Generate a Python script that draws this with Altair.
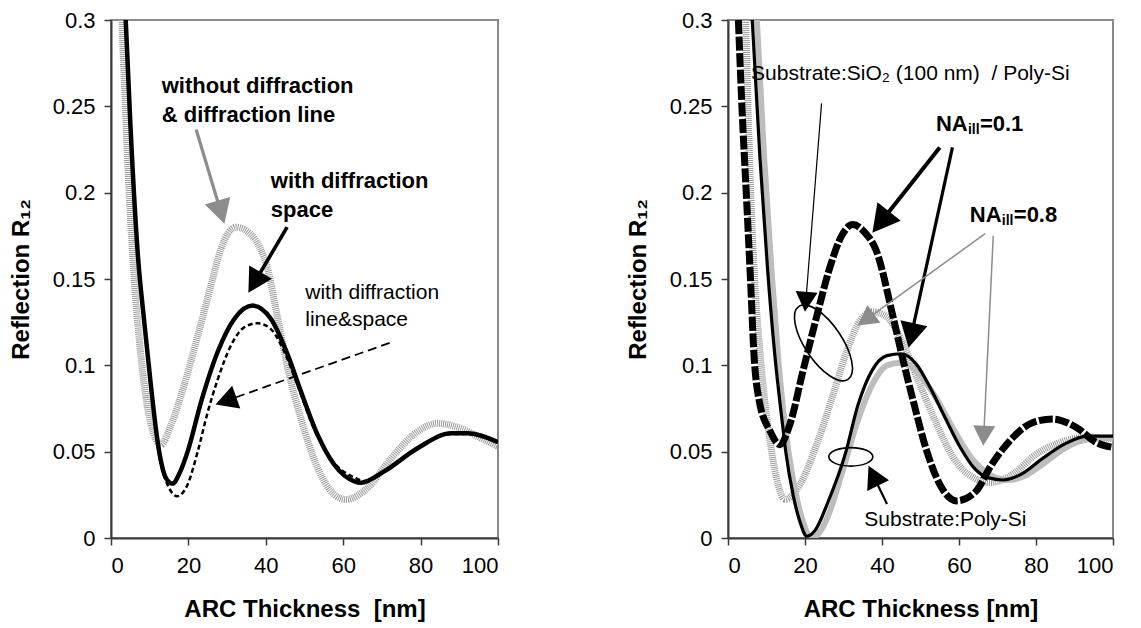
import math
import altair as alt
import pandas as pd

FONT = "Liberation Sans"
W_L, W_R, H = 387, 385, 518
YMAX = 0.3

# ---------------- left panel: curves ----------------
L_nodiff_x = [2.8, 3.7, 4.8, 6.0, 7.3, 8.6, 10.3, 12.9, 15.5, 18.9, 22.4, 25.8, 28.5, 32.3, 36.0, 38.5,
              40.5, 43.1, 45.7, 49.1, 53.4, 57.7, 60.7, 66.3, 72.4, 79.2, 84.4, 90.4, 94.8, 100]
L_nodiff_y = [0.300, 0.250, 0.195, 0.150, 0.115, 0.0885, 0.066, 0.054, 0.0655, 0.0885, 0.117, 0.146, 0.168,
              0.180, 0.176, 0.168, 0.1557, 0.127, 0.098, 0.069, 0.0405, 0.0252, 0.0223, 0.029, 0.0462,
              0.0616, 0.0664, 0.0635, 0.0587, 0.053]

L_ls_x = [3.8, 5.0, 6.9, 8.6, 10.3, 12.3, 14.6, 17.1, 19.8, 22.4, 25.0, 27.6, 31.0, 34.4, 37.9, 41.3,
          44.8, 48.2, 52.5, 57.7, 62.9, 65.5, 70.6, 79.2, 87.9, 92.2, 100]
L_ls_y = [0.300, 0.240, 0.165, 0.125, 0.0885, 0.050, 0.031, 0.0242, 0.031, 0.050, 0.073, 0.092, 0.1115,
          0.122, 0.1244, 0.121, 0.1077, 0.0885, 0.063, 0.0435, 0.035, 0.033, 0.0384, 0.0518, 0.0603,
          0.0603, 0.0553]

L_sp_x = [3.8, 5.0, 6.9, 8.6, 10.3, 12.3, 14.2, 15.9, 17.8, 19.8, 23.3, 27.6, 31.9, 36.6, 41.3, 45.7,
          49.1, 53.4, 57.7, 62.9, 64.6, 70.6, 79.2, 87.9, 92.2, 100]
L_sp_y = [0.300, 0.240, 0.165, 0.125, 0.0885, 0.052, 0.0347, 0.0315, 0.038, 0.050, 0.079, 0.108, 0.127,
          0.1346, 0.127, 0.106, 0.0847, 0.0597, 0.0424, 0.0328, 0.032, 0.0386, 0.052, 0.0606, 0.0606,
          0.0555]

# ---------------- right panel: curves ----------------
R_na01_sio2_x = [2.7, 3.55, 4.85, 5.9, 6.7, 8.1, 10.9, 13.5, 16.1, 19.5, 23.0, 26.5, 29.5, 32.4, 35.5,
                 38.5, 42.9, 45.5, 48.1, 51.6, 55.0, 59.4, 64.5, 68.0, 73.2, 79.2, 84.4, 90.5, 95.7, 100]
R_na01_sio2_y = [0.300, 0.253, 0.195, 0.147, 0.108, 0.0795, 0.062, 0.054, 0.066, 0.097, 0.128, 0.157,
                 0.175, 0.1815, 0.177, 0.1665, 0.1278, 0.1027, 0.0795, 0.0505, 0.0311, 0.0215, 0.0273,
                 0.0408, 0.0563, 0.0669, 0.0689, 0.064, 0.0553, 0.0524]

R_na08_sio2_x = [4.6, 5.6, 7.0, 8.3, 11.3, 13.0, 14.8, 18.7, 23.0, 27.3, 30.8, 34.3, 37.5, 41.0, 45.5,
                 49.8, 54.2, 58.5, 63.7, 68.0, 74.0, 80.1, 86.2, 92.2, 100]
R_na08_sio2_y = [0.300, 0.220, 0.147, 0.108, 0.0505, 0.031, 0.0224, 0.031, 0.054, 0.083, 0.108, 0.126,
                 0.131, 0.1285, 0.1124, 0.089, 0.066, 0.0466, 0.035, 0.0321, 0.037, 0.0486, 0.0553,
                 0.0582, 0.0573]

R_na01_poly_x = [6.3, 8.3, 10.3, 12.2, 14.2, 15.0, 17.0, 18.6, 20.5, 22.5, 26.0, 30.5, 33.7, 37.5, 41.3,
                 45.0, 48.8, 53.0, 56.4, 60.2, 63.9, 67.7, 71.5, 76.2, 81.9, 87.5, 93.2, 100]
R_na01_poly_y = [0.300, 0.220, 0.155, 0.105, 0.065, 0.050, 0.024, 0.010, 0.001, 0.004, 0.021, 0.049,
                 0.0766, 0.0974, 0.1056, 0.1067, 0.101, 0.085, 0.0696, 0.053, 0.0406, 0.0348, 0.0336,
                 0.037, 0.0464, 0.0545, 0.059, 0.059]

R_na08_poly_x = [7.5, 9.4, 11.3, 13.0, 14.8, 16.8, 19.0, 21.9, 24.0, 26.2, 29.9, 33.7, 37.5, 41.3, 44.8,
                 48.8, 53.5, 58.3, 63.0, 67.7, 72.4, 77.1, 81.9, 87.5, 93.2, 100]
R_na08_poly_y = [0.300, 0.220, 0.155, 0.105, 0.065, 0.035, 0.013, 0.0, 0.004, 0.014, 0.040, 0.068, 0.089,
                 0.100, 0.1015, 0.097, 0.083, 0.064, 0.047, 0.037, 0.0336, 0.036, 0.043, 0.052, 0.057,
                 0.058]

# ---------------- annotations (data coordinates) ----------------
L_bold_text = ["without diffraction", "& diffraction line", "with diffraction", "space"]
L_bold_x = [13.1, 13.1, 41.3, 41.3]
L_bold_y = [0.262, 0.245, 0.2066, 0.1897]
L_norm_text = ["with diffraction", "line&space"]
L_norm_x = [50.2, 50.2]
L_norm_y = [0.142, 0.126]

# arrows: start x, start y, tip x, tip y, colour, width, head length
L_arrows = [
    (22.0, 0.2366, 29.3, 0.182, "#8c8c8c", 3.2, 24),
    (45.5, 0.180, 35.5, 0.142, "#000000", 3.6, 24),
]
L_arrows_dashed = [
    (72.0, 0.113, 27.0, 0.0773, "#000000", 1.8, 22),
]

R_norm_text = ["Substrate:SiO\u2082 (100 nm)\u00a0 / Poly-Si", "Substrate:Poly-Si"]
R_norm_x = [6.0, 35.4]
R_norm_y = [0.2687, 0.0104]
R_na_x = [54.0, 62.8]
R_na_y = [0.240, 0.1868]
R_na_val = ["=0.1", "=0.8"]

R_arrows = [
    (24.3, 0.2517, 20.0, 0.131, "#000000", 1.2, 20),
    (55.0, 0.2262, 37.5, 0.1768, "#000000", 4.0, 27),
    (58.3, 0.2262, 46.9, 0.1102, "#000000", 3.2, 25),
    (66.8, 0.1763, 33.7, 0.123, "#8c8c8c", 1.5, 20),
    (68.9, 0.175, 66.3, 0.0534, "#8c8c8c", 1.5, 20),
    (41.3, 0.0197, 36.5, 0.0418, "#000000", 2.2, 22),
]

# ellipses: centre x, centre y, semi-major (px), rotation (deg)
R_ellipses = [(24.8, 0.113, 44, 56), (31.9, 0.047, 22, 0)]

HEAD = "M0,0 L0.55,1 L-0.55,1 Z"
ELLIPSE = ("M-1,0 C-1,-0.232 -0.552,-0.42 0,-0.42 C0.552,-0.42 1,-0.232 1,0 "
           "C1,0.232 0.552,0.42 0,0.42 C-0.552,0.42 -1,0.232 -1,0 Z")


def x_enc(title, field="x"):
    return alt.X(f"{field}:Q", scale=alt.Scale(domain=[0, 100], nice=False, zero=False),
                 axis=alt.Axis(values=[0, 20, 40, 60, 80, 100], format="d", title=title))


def y_enc(field="y"):
    return alt.Y(f"{field}:Q", scale=alt.Scale(domain=[0, YMAX], nice=False),
                 axis=alt.Axis(values=[0, 0.05, 0.1, 0.15, 0.2, 0.25, 0.3], format="~g",
                               title="Reflection R\u2081\u2082"))


def line_layer(xs, ys, xtitle, **style):
    df = pd.DataFrame({"x": xs, "y": ys})
    return alt.Chart(df).mark_line(interpolate="monotone", clip=True, **style).encode(
        x=x_enc(xtitle), y=y_enc())


def arrow_layers(arrows, xtitle, width, dashed=False):
    xppu = width / 100.0
    yppu = H / YMAX
    shafts, heads = [], []
    for (x1, y1, x2, y2, col, sw, L) in arrows:
        dx = (x2 - x1) * xppu
        dy = -(y2 - y1) * yppu
        n = math.hypot(dx, dy)
        ux, uy = dx / n, dy / n
        ex = x2 - ux * L * 0.6 / xppu
        ey = y2 + uy * L * 0.6 / yppu
        shafts.append({"x": x1, "y": y1, "xe": ex, "ye": ey, "c": col, "w": sw})
        ang = math.degrees(math.atan2(dx, -dy)) % 360
        heads.append({"x": x2, "y": y2, "a": ang, "s": (2 * L) ** 2, "c": col})
    rule_kw = {"strokeDash": [9, 5]} if dashed else {}
    shaft = alt.Chart(pd.DataFrame(shafts)).mark_rule(**rule_kw).encode(
        x=x_enc(xtitle), y=y_enc(), x2="xe:Q", y2="ye:Q",
        color=alt.Color("c:N", scale=None), strokeWidth=alt.StrokeWidth("w:Q", scale=None))
    head = alt.Chart(pd.DataFrame(heads)).mark_point(shape=HEAD, filled=True, opacity=1, strokeWidth=0).encode(
        x=x_enc(xtitle), y=y_enc(), angle=alt.Angle("a:Q", scale=None),
        size=alt.Size("s:Q", scale=None), color=alt.Color("c:N", scale=None))
    return [shaft, head]


def text_layer(texts, xs, ys, xtitle, **style):
    df = pd.DataFrame({"x": xs, "y": ys, "t": texts})
    return alt.Chart(df).mark_text(align="left", baseline="middle", font=FONT, color="black", **style).encode(
        x=x_enc(xtitle), y=y_enc(), text="t:N")


STIPPLE = dict(color="#9a9a9a", strokeWidth=7, strokeDash=[1, 1])

# ---------------- left panel ----------------
LT = "ARC Thickness\u00a0 [nm]"
left_layers = [
    line_layer(L_nodiff_x, L_nodiff_y, LT, **STIPPLE),
    line_layer(L_ls_x, L_ls_y, LT, color="black", strokeWidth=2.5, strokeDash=[5, 3]),
    line_layer(L_sp_x, L_sp_y, LT, color="black", strokeWidth=4.5),
]
left_layers += arrow_layers(L_arrows, LT, W_L)
left_layers += arrow_layers(L_arrows_dashed, LT, W_L, dashed=True)
left_layers.append(text_layer(L_bold_text, L_bold_x, L_bold_y, LT, fontSize=22, fontWeight="bold"))
left_layers.append(text_layer(L_norm_text, L_norm_x, L_norm_y, LT, fontSize=21))
left = alt.layer(*left_layers).properties(width=W_L, height=H)

# ---------------- right panel ----------------
RT = "ARC Thickness [nm]"
right_layers = [
    line_layer(R_na08_sio2_x, R_na08_sio2_y, RT, **STIPPLE),
    line_layer(R_na08_poly_x, R_na08_poly_y, RT, color="#bdbdbd", strokeWidth=6),
    line_layer(R_na01_poly_x, R_na01_poly_y, RT, color="black", strokeWidth=3.2),
    line_layer(R_na01_sio2_x, R_na01_sio2_y, RT, color="black", strokeWidth=7, strokeDash=[14, 2.5]),
]
right_layers += arrow_layers(R_arrows, RT, W_R)
ell_df = pd.DataFrame({"x": [e[0] for e in R_ellipses], "y": [e[1] for e in R_ellipses],
                       "s": [(2 * e[2]) ** 2 for e in R_ellipses], "a": [e[3] for e in R_ellipses]})
right_layers.append(
    alt.Chart(ell_df).mark_point(shape=ELLIPSE, filled=False, color="black", strokeWidth=1.6, opacity=1).encode(
        x=x_enc(RT), y=y_enc(), size=alt.Size("s:Q", scale=None), angle=alt.Angle("a:Q", scale=None)))
right_layers.append(text_layer(R_norm_text, R_norm_x, R_norm_y, RT, fontSize=21))
right_layers.append(text_layer(["NA", "NA"], R_na_x, R_na_y, RT, fontSize=22, fontWeight="bold"))
right_layers.append(text_layer(["ill", "ill"], R_na_x, R_na_y, RT, fontSize=14, fontWeight="bold", dx=32, dy=6))
right_layers.append(text_layer(R_na_val, R_na_x, R_na_y, RT, fontSize=22, fontWeight="bold", dx=44))
right = alt.layer(*right_layers).properties(width=W_R, height=H)

chart = alt.hconcat(left, right, spacing=125).properties(
    padding={"left": 0, "top": 0, "right": 0, "bottom": 0}
).configure_view(
    stroke="#8a8a8a", strokeWidth=2
).configure_axis(
    grid=False, domainColor="#3a3a3a", domainWidth=2, tickColor="#3a3a3a", tickWidth=1.5, tickSize=7,
    labelFont=FONT, labelFontSize=22, labelColor="black", labelPadding=9,
    titleFont=FONT, titleFontSize=24, titleFontWeight="bold", titleColor="black", titlePadding=19
).configure_axisX(
    labelPadding=10, titlePadding=21
)

chart.save("out.html", embed_options={"renderer": "svg", "actions": False})
